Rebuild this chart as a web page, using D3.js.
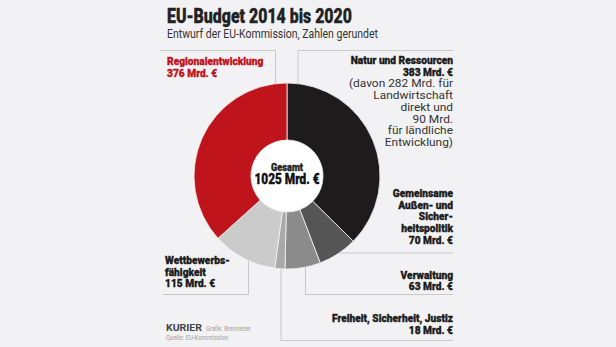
<!DOCTYPE html>
<html>
<head>
<meta charset="utf-8">
<script src="https://cdn.jsdelivr.net/npm/d3@7"></script>
<style>
  body { margin: 0; background: #f2f2f4; }
  svg { display: block; }
  text { font-family: Roboto, "Noto Sans", sans-serif; }
  text.heavy { stroke-width: 0.35px; stroke-linejoin: round; }
</style>
</head>
<body>
<svg id="canvas" width="616" height="347"></svg>
<script>
// data
const categories = ['Natur und Ressourcen', 'Gemeinsame Außen- und Sicherheitspolitik', 'Verwaltung',
  'Freiheit, Sicherheit, Justiz', 'Wettbewerbsfähigkeit', 'Regionalentwicklung'];
const values = [383, 70, 63, 18, 115, 376];
const total = 1025;
const sliceColors = ['#1e1b1c', '#565555', '#8b8b8b', '#a9a9a9', '#cbcbcb', '#c0141c'];

// label text, one entry per category (bold lines, then normal lines)
const boldLines = [
  ['Natur und Ressourcen', '383 Mrd. €'],
  ['Gemeinsame', 'Außen- und', 'Sicher-', 'heitspolitik', '70 Mrd. €'],
  ['Verwaltung', '63 Mrd. €'],
  ['Freiheit, Sicherheit, Justiz', '18 Mrd. €'],
  ['Wettbewerbs-', 'fähigkeit', '115 Mrd. €'],
  ['Regionalentwicklung', '376 Mrd. €']
];
const noteLines = [
  ['(davon 282 Mrd. für', 'Landwirtschaft', 'direkt und', '90 Mrd.', 'für ländliche', 'Entwicklung)'],
  [], [], [], [], []
];

let canvas = d3.select('#canvas');

const cx = 287, cy = 176, outerR = 93, innerR = 36;
const heavy = 900;

// squeeze text horizontally, to imitate the condensed newspaper font
let squeeze = (sel, ratio) => {
  sel.each(function () {
    let w = this.getComputedTextLength();
    d3.select(this).attr('textLength', w * ratio).attr('lengthAdjust', 'spacingAndGlyphs');
  });
};
let fitTo = (sel, width) => sel.attr('textLength', width).attr('lengthAdjust', 'spacingAndGlyphs');

// title
fitTo(canvas.append('text').attr('class', 'heavy').attr('x', 167).attr('y', 23)
  .attr('font-size', 20).attr('font-weight', heavy).attr('fill', '#222').attr('stroke', '#222')
  .text('EU-Budget 2014 bis 2020'), 185);
fitTo(canvas.append('text').attr('x', 167).attr('y', 38)
  .attr('font-size', 12.5).attr('fill', '#333')
  .text('Entwurf der EU-Kommission, Zahlen gerundet'), 211);

// donut
let pie = d3.pie().sort(null).value(d => d);
let arc = d3.arc().innerRadius(innerR).outerRadius(outerR);
let g = canvas.append('g').attr('transform', `translate(${cx},${cy})`);
g.append('circle').attr('r', innerR).attr('fill', '#ffffff');
g.selectAll('path')
  .data(pie(values))
  .enter()
  .append('path')
  .attr('d', arc)
  .attr('fill', (d, i) => sliceColors[i])
  .attr('stroke', '#f4f4f4')
  .attr('stroke-width', 0.8);

// centre text
fitTo(canvas.append('text').attr('class', 'heavy').attr('x', cx).attr('y', 171).attr('text-anchor', 'middle')
  .attr('font-size', 11.5).attr('font-weight', heavy).attr('fill', '#222').attr('stroke', '#222')
  .text('Gesamt'), 32);
fitTo(canvas.append('text').attr('class', 'heavy').attr('x', cx).attr('y', 184).attr('text-anchor', 'middle')
  .attr('font-size', 15.5).attr('font-weight', heavy).attr('fill', '#111').attr('stroke', '#111')
  .text(total + ' Mrd. €'), 65);

// leader lines: circle edge helpers
let edgeY = (x, sign) => cy + sign * Math.sqrt(outerR * outerR - (x - cx) * (x - cx));
let edgeX = (y, sign) => cx + sign * Math.sqrt(outerR * outerR - (y - cy) * (y - cy));

let leaders = [
  [[298, edgeY(298, -1)], [298, 50.5], [453, 50.5]],
  [[edgeX(253, 1), 253], [453, 253]],
  [[305.5, edgeY(305.5, 1)], [305.5, 294.5], [453, 294.5]],
  [[281, edgeY(281, 1)], [281, 340.5], [453, 340.5]],
  [[248.5, edgeY(248.5, 1)], [248.5, 294.5], [163, 294.5]],
  [[275.5, edgeY(275.5, -1)], [275.5, 50.5], [160, 50.5]]
];
canvas.selectAll('polyline.leader')
  .data(leaders)
  .enter()
  .append('polyline')
  .attr('class', 'leader')
  .attr('points', d => d.map(p => p.join(',')).join(' '))
  .attr('fill', 'none')
  .attr('stroke', '#c9c9c9')
  .attr('stroke-width', 1);

// labels
let labelPos = [
  {x: 453, y: 64, anchor: 'end'},
  {x: 453, y: 197, anchor: 'end'},
  {x: 453, y: 278.5, anchor: 'end'},
  {x: 453, y: 322, anchor: 'end'},
  {x: 165, y: 264, anchor: 'start'},
  {x: 167, y: 65, anchor: 'start'}
];
const lineH = 11.7;
const fs = 11.5;

// condense ratios measured from reference line widths
let probe = canvas.append('text').attr('font-size', fs).attr('font-weight', heavy).text('Freiheit, Sicherheit, Justiz');
const boldRatio = 121 / probe.node().getComputedTextLength();
probe.attr('font-weight', 'normal').text('(davon 282 Mrd. für');
const normalRatio = 104 / probe.node().getComputedTextLength();
probe.remove();

categories.forEach((c, i) => {
  let p = labelPos[i];
  let col = i === 5 ? '#c0141c' : '#1a1a1a';
  boldLines[i].forEach((line, j) => {
    let t = canvas.append('text')
      .attr('class', 'heavy')
      .attr('x', p.x).attr('y', p.y + j * lineH)
      .attr('text-anchor', p.anchor)
      .attr('font-size', fs).attr('font-weight', heavy)
      .attr('fill', col).attr('stroke', col)
      .text(line);
    squeeze(t, boldRatio);
  });
  let n0 = boldLines[i].length;
  noteLines[i].forEach((line, j) => {
    let t = canvas.append('text')
      .attr('x', p.x).attr('y', p.y + (n0 + j) * lineH)
      .attr('text-anchor', p.anchor)
      .attr('font-size', fs).attr('fill', '#333')
      .text(line);
    squeeze(t, normalRatio);
  });
});

// credits
fitTo(canvas.append('text').attr('x', 166).attr('y', 330.5)
  .attr('font-family', 'Liberation Serif, serif').attr('font-weight', 'bold')
  .attr('font-size', 9).attr('fill', '#444').text('KURIER'), 36);
fitTo(canvas.append('text').attr('x', 206).attr('y', 330.5)
  .attr('font-size', 7.5).attr('fill', '#a0a0a0').text('Grafik: Brenneder'), 45);
fitTo(canvas.append('text').attr('x', 166).attr('y', 340)
  .attr('font-size', 7.5).attr('fill', '#a0a0a0').text('Quelle: EU-Kommission'), 62);
</script>
</body>
</html>
